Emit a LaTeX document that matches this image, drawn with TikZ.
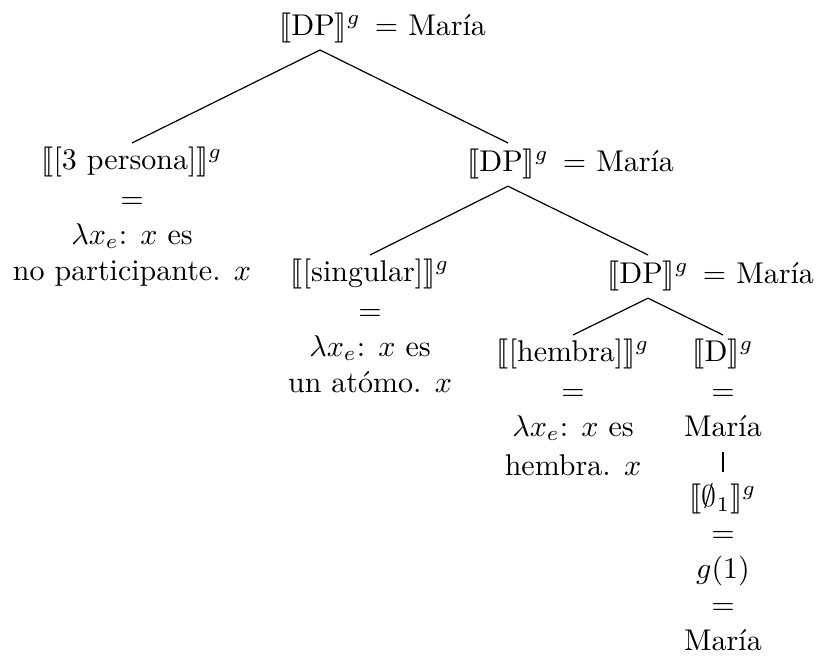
\documentclass[tikz,border=0pt]{standalone}
\usepackage{amsmath,amssymb}
\usepackage{stmaryrd}
\usetikzlibrary{positioning}
\newcommand{\den}[1]{\llbracket #1\rrbracket^{g}}
\tikzset{
    sem/.style={align=center, inner ysep=1pt},
    cat/.style={inner ysep=1pt, execute at begin node=\strut},
    eqtail/.style={anchor=base west, inner xsep=1pt},
    branch/.style={draw=black, line width=0.4pt}
}
\begin{document}
\begin{tikzpicture}[x=0.3333pt, y=-0.3333pt]
\useasboundingbox (0,0) rectangle (816,660);
% top DP
\node[cat, anchor=south] (dpA) at (320,50) {$\den{\text{DP}}$};
\node[eqtail] (dpAeq) at (dpA.base east) {$=$ María};
% second level
\node[sem, anchor=north] (pers) at (132,143) {$\den{[\text{3 persona}]}$\\[1pt]$=$\\$\lambda x_e$: $x$ es\\no participante. $x$};
\node[cat, anchor=north] (dpB) at (508,143) {$\den{\text{DP}}$};
\node[eqtail] (dpBeq) at (dpB.base east) {$=$ María};
% third level
\node[sem, anchor=north] (sing) at (370,255) {$\den{[\text{singular}]}$\\[1pt]$=$\\$\lambda x_e$: $x$ es\\un atómo. $x$};
\node[cat, anchor=north] (dpC) at (648,255) {$\den{\text{DP}}$};
\node[eqtail] (dpCeq) at (dpC.base east) {$=$ María};
% fourth level
\node[sem, anchor=north] (hemb) at (573,335) {$\den{[\text{hembra}]}$\\[1pt]$=$\\$\lambda x_e$: $x$ es\\[1pt]hembra. $x$};
\node[sem, anchor=north] (dD) at (723,335) {$\den{\text{D}}$\\[1pt]$=$\\María};
\node[sem, below=13.5pt of dD] (pro) {$\den{\emptyset_1}$\\$=$\\$g(1)$\\$=$\\María};
% branches
\draw[branch] (dpA.south) -- (pers.north);
\draw[branch] (dpA.south) -- (dpB.north);
\draw[branch] (dpB.south) -- (sing.north);
\draw[branch] (dpB.south) -- (dpC.north);
\draw[branch] (dpC.south) -- (hemb.north);
\draw[branch] (dpC.south) -- (dD.north);
\draw[branch, shorten <=4pt, shorten >=2.8pt] (dD.south) -- (pro.north);
\end{tikzpicture}
\end{document}
